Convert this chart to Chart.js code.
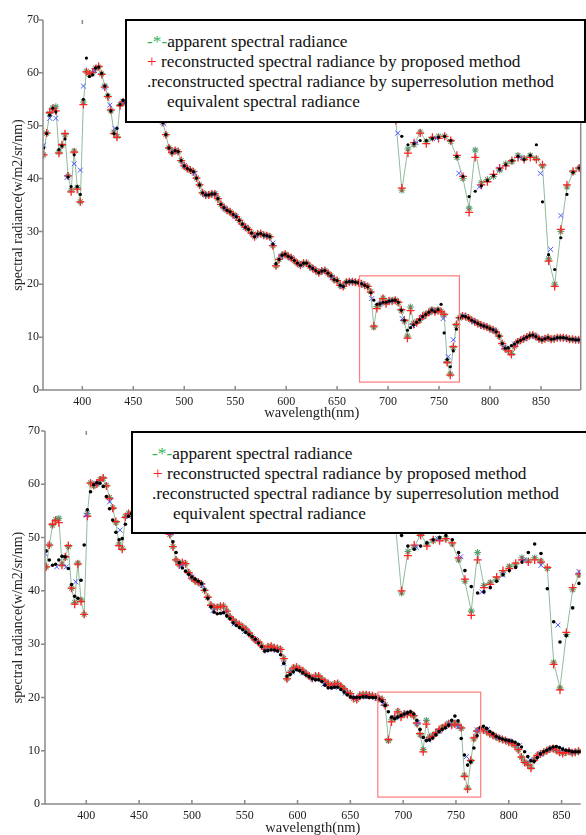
<!DOCTYPE html>
<html><head><meta charset="utf-8">
<script src="https://cdn.jsdelivr.net/npm/chart.js@4.4.0/dist/chart.umd.min.js"></script>
<style>
html,body{margin:0;padding:0;background:#fff}
body{width:586px;height:835px;overflow:hidden;position:relative;font-family:"Liberation Serif","Tinos","DejaVu Serif","Noto Serif",serif}
canvas{position:absolute;left:0}
.leg{position:absolute;background:#fff;border:2px solid #000;box-sizing:border-box}
.ln{position:absolute;font-size:17.3px;line-height:20px;white-space:nowrap;color:#111}
.g{color:#2fb35a}.r{color:#ff2020}
</style></head><body>
<canvas id="c1" width="586" height="422" style="top:0"></canvas>
<canvas id="c2" width="586" height="419" style="top:418px"></canvas>

<div class="leg" style="left:125px;top:19px;width:461px;height:104px"></div>
<div class="ln" style="left:147px;top:32px"><span class="g">-*-</span>apparent spectral radiance</div>
<div class="ln" style="left:147px;top:52px"><span class="r">+</span> reconstructed spectral radiance by proposed method</div>
<div class="ln" style="left:147px;top:72px">.reconstructed spectral radiance by superresolution method</div>
<div class="ln" style="left:167px;top:92px">equivalent spectral radiance</div>

<div class="leg" style="left:131px;top:431px;width:470px;height:103px"></div>
<div class="ln" style="left:152px;top:444px"><span class="g">-*-</span>apparent spectral radiance</div>
<div class="ln" style="left:153px;top:464px"><span class="r">+</span> reconstructed spectral radiance by proposed method</div>
<div class="ln" style="left:152px;top:484px">.reconstructed spectral radiance by superresolution method</div>
<div class="ln" style="left:173px;top:504px">equivalent spectral radiance</div>

<script>
// ---- data ----
const wavelengths = [
362,365,368,371,374,377,380,383,386,389,
392,395,398,401,404,407,410,413,416,419,
422,425,428,431,434,437,440,443,446,449,
452,455,458,461,464,467,470,473,476,479,
482,485,488,491,494,497,500,503,506,509,
512,515,518,521,524,527,530,533,536,539,
542,545,548,551,554,557,560,563,566,569,
572,575,578,581,584,587,590,593,596,599,
602,605,608,611,614,617,620,623,626,629,
632,635,638,641,644,647,650,653,656,659,
662,665,668,671,674,677,680,683,686,689,
692,695,698,701,704,707,710,713,716,719,
722,725,728,731,734,737,740,743,746,749,
752,755,758,761,764,767,770,773,776,779,
782,785,788,791,794,797,800,803,806,809,
812,815,818,821,824,827,830,833,836,839,
842,845,848,851,854,857,860,863,866,869,
872,875,878,881,884,887,890];

const proposed = [
44.5,48.6,52.5,53.2,52.8,44.8,46.4,48.5,40.5,37.5,
45,38,35.6,54,60.2,59.8,60.1,60.8,61.2,59.7,
57.3,55.5,53,48.5,47.8,53.8,54.5,54.3,54,54.5,
54.6,54.2,53.8,53.6,53.2,52.8,52.5,52,51.4,50.6,
48.3,45.8,44.9,45.3,45.1,43.4,42.4,41.9,41.6,41.3,
40.1,38.8,37.3,36.9,36.9,37.1,37.1,36.2,35.1,34.5,
34,33.7,33.2,32.8,32.1,31.4,30.8,30.4,29.7,29,
29.5,29.6,29.3,29.2,29,27.3,23.5,24.7,25.5,25.7,
25.3,25,24.5,24,23.6,24,24,23.4,23,22.6,
22.2,22.5,22.6,22.1,21.6,20.9,20.7,19.8,19.6,20.4,
20.5,20.5,20.4,20.3,20.1,19.8,19.6,18.5,12.1,15.4,
16.4,17.3,16.3,16.9,16.8,17,16.6,15.2,13.2,9.8,
15,12.4,12.7,13.4,14,14.2,14.7,15,14.8,15,
14.8,14.3,5.2,2.8,8.2,12.4,13.7,14,13.9,13.6,
13.2,12.9,12.6,12.3,12.1,11.9,11.6,11.4,11,10.2,
8.8,7.8,7.4,6.7,8.2,9.1,9.4,9.7,10,10.3,
10.4,10.1,9.7,9.5,9.7,9.9,9.6,9.7,9.9,9.9,
9.9,9.8,9.6,9.6,9.5,9.5,9.4];

const apparent = [
44.5,48.6,52.3,53.4,53.6,45,46.2,48.3,40.5,37.8,
45.2,38.3,35.6,54.5,60.3,59.7,60,60.9,61.1,59.8,
57.5,55.6,52.8,48.8,48,54,54.6,54.3,54,54.5,
54.6,54.2,53.8,53.6,53.2,52.8,52.5,52,51.4,50.6,
48.3,45.8,44.9,45.3,45.1,43.4,42.4,41.9,41.6,41.3,
40.1,38.8,37.3,36.9,36.9,37.1,37.1,36.2,35.1,34.5,
34,33.7,33.2,32.8,32.1,31.4,30.8,30.4,29.7,29,
29.5,29.6,29.3,29.2,29,27.3,23.5,24.7,25.5,25.7,
25.3,25,24.5,24,23.6,24,24,23.4,23,22.6,
22.2,22.5,22.6,22.1,21.6,20.9,20.7,19.8,19.6,20.4,
20.5,20.5,20.4,20.3,20.1,19.8,19.6,18.6,11.9,15.8,
16.2,17.4,16.5,16.8,17,17,16.5,15,13,10.2,
15.7,12.6,12.9,13.2,13.8,14.4,14.6,15.2,14.9,15.2,
14.9,14.2,5.4,3,8,12.2,13.6,14,13.9,13.6,
13.2,12.9,12.6,12.3,12.1,11.9,11.6,11.4,11,10.2,
8.8,7.9,7.5,6.9,8.3,9.1,9.4,9.7,10,10.3,
10.4,10.1,9.7,9.5,9.7,9.9,9.6,9.7,9.9,9.9,
9.9,9.8,9.6,9.6,9.5,9.5,9.4];

const superres1 = [
45.8,48.5,52,53.3,52.6,45.5,46.2,47.5,40.3,38.5,
44.5,38.5,37,55,62.8,59.3,59.6,60.9,61.1,59.9,
57.5,55.8,52.8,48.5,49.5,54,54.8,54.3,54,54.5,
54.6,54.2,53.8,53.6,53.2,52.8,52.5,52,51.4,50.6,
48.3,45.8,44.9,45.3,45.1,43.4,42.4,41.9,41.6,41.3,
40.1,38.8,37.3,36.9,36.9,37.1,37.1,36.2,35.1,34.5,
34,33.7,33.2,32.8,32.1,31.4,30.8,30.4,29.7,29,
29.5,29.6,29.3,29.2,29,27.6,23.9,24.7,25.5,25.7,
25.3,25,24.5,24,23.6,24,24,23.4,23,22.6,
22.2,22.5,22.6,22.1,21.6,20.9,20.7,19.8,19.6,20.4,
20.5,20.5,20.4,20.3,20.1,19.8,19.5,18.4,17,16.2,
16.3,16.6,16.6,16.8,16.9,17,16.6,15.1,13.2,11.3,
11.8,12.3,12.8,13.3,13.9,14.3,14.7,15.1,14.8,15.2,
16.2,10.8,5.8,4.4,7.4,11.5,13.6,14,13.9,13.6,
13.2,12.9,12.6,12.3,12.1,11.9,11.6,11.4,11,10.2,
8.8,7.9,8,8.4,8.7,9.1,9.4,9.7,10,10.3,
10.4,10.1,9.7,9.5,9.7,9.9,9.6,9.7,9.9,9.9,
9.9,9.8,9.6,9.6,9.5,9.5,9.4];

const superres2 = [
47.5,45.8,44.8,45,45.8,46.5,46.4,44.2,41.2,39,
38.6,42,48.6,55.2,58.6,59.9,60.3,60.2,59.6,57.7,
55.4,53.3,51,49.6,49.8,52.5,54,54.5,54.5,54.3,
54,53.8,53.5,53.2,52.9,52.6,52.3,52,51.6,51,
49.2,47.2,45.3,44.3,43.7,43.1,42.6,42.2,41.8,41.4,
40.2,38.6,37,36,35.7,35.8,35.9,35.3,34.8,34,
33.5,33.1,32.7,32.2,31.8,31.4,30.9,30.2,29.5,28.7,
28.8,28.9,28.9,28.7,28,26.4,24,24.3,24.8,25.2,
25,24.6,24.2,23.9,23.5,23.3,23.3,23,22.3,21.8,
21.8,21.9,21.9,21.5,21,20.5,20.1,20,20,20,
20.1,20.1,20,20,20,19.7,19.3,18.5,17.3,16.3,
16,16.3,16.6,16.9,17.1,17.3,16.9,15.7,14,12.5,
11.9,12,12.4,13,13.6,14,14.3,14.8,15.7,16.5,
15.6,12.3,9.2,7.3,7.9,10.5,12.8,14.3,14.6,14.2,
13.6,13.2,12.7,12.4,12.2,12,11.9,11.8,11.6,11.2,
10.7,9.8,8.9,8.1,8,8.7,9.4,9.8,10.1,10.4,
10.7,10.8,10.6,10.3,10.1,10,9.8,9.8,9.8,9.8,
9.8,9.8,9.7,9.7,9.6,9.6,9.6];

const eqWl1 = [362,368,374,385,392,398,401,412,422,427,432,440,450,460,470,480,490,500,510,520,530,540,550,560,570,580,587,595,605,615,625,635,645,655,665,675,684,693,703,714,724,734,744,754,759,764,774,784,794,804,814,824,834,844,854,864,874,884];
const eqVal1 = [46.3,51.4,51.4,40.2,42.8,41.6,57.5,60.4,57.3,53.9,49.5,54.5,54.5,53.6,52.5,50.4,45.2,42.4,41,37,37.1,34.3,32.9,30.8,29.2,29.2,27.8,25.3,25,23.7,23.1,22.5,21.3,19.7,20.5,20,17.3,16.4,16.8,13.5,12.2,13.9,15,13.5,6.3,9.5,14,13,12.1,11.3,8.1,8.7,9.8,10.2,9.7,9.8,9.8,9.5];
const eqWl2 = [361,372,381,390,400,410,422,432,440,450,460,470,480,490,500,510,520,530,540,550,560,570,580,587,595,605,615,625,635,645,655,665,675,681,693,703,714,724,734,744,752,760,770,780,790,800,810,820,830,840,850,860];
const eqVal2 = [47,44.5,44.5,41.7,54.2,60.2,56.7,51.4,54,54.2,53.3,52.3,50.8,44.6,42.6,41,36.3,35.9,33.8,32.4,30.9,28.8,28.8,26.4,24.8,24.6,23.4,22.5,21.9,20.8,20,20.1,19.9,18.9,16.2,17,15.3,12,13.6,15,14.5,8.9,13.9,14,12.5,11.9,11,8.3,9.4,10.4,10.3,9.8];

const xTickLabels = [400,450,500,550,600,650,700,750,800,850];
const yTickLabels = [0,10,20,30,40,50,60,70];

// zoomed region (data units) and its magnified copy mapping
const zoomBox1 = {x:[672,770], y:[1.5,21.6]};
const zoomBox2 = {x:[676,773.4], y:[1.3,21]};
const inset1 = {k:2, dx:658.5, dy:14, from:672, to:776};
const inset2 = {k:2, dx:673.5, dy:15.8, from:676, to:776};

// ---- helpers ----
const FONT = "'Liberation Serif','Tinos','DejaVu Serif','Noto Serif',serif";
const pts = (xs, ys) => xs.map((x,i)=>({x, y:ys[i]}));
const insetPts = (xs, ys, m) => pts(xs, ys).filter(p=>p.x>=m.from && p.x<=m.to)
  .map(p=>({x:m.k*p.x - m.dx, y:m.k*p.y + m.dy}));

function buildDatasets(sup, eqW, eqV, m, dotR){
  const out = [];
  [false,true].forEach(inset=>{
    const f = inset ? (xs,ys)=>insetPts(xs,ys,m) : pts;
    out.push({label:'apparent spectral radiance', data:f(wavelengths, apparent), showLine:true,
      borderColor:'rgba(125,175,140,0.85)', borderWidth:1, pointStyle:'star', pointRadius:3.4,
      pointBorderColor:'#5a9f72', pointBackgroundColor:'#5a9f72', pointBorderWidth:1.1, order:4});
    out.push({label:'reconstructed spectral radiance by proposed method', data:f(wavelengths, proposed), showLine:false,
      pointStyle:'cross', pointRadius:4, pointBorderColor:'#ff2424', pointBackgroundColor:'#ff2424', pointBorderWidth:1.3, order:3});
    out.push({label:'equivalent spectral radiance', data:f(eqW, eqV), showLine:false,
      pointStyle:'crossRot', pointRadius:3.5, pointBorderColor:'#4d5cff', pointBackgroundColor:'#4d5cff', pointBorderWidth:1, order:1});
    out.push({label:'reconstructed spectral radiance by superresolution method', data:f(wavelengths, sup), showLine:false,
      pointStyle:'circle', pointRadius:dotR, pointBackgroundColor:'#000', pointBorderColor:'#000', pointBorderWidth:0, order:0});
  });
  return out;
}

const framePlugin = {
  id:'frame',
  afterDatasetsDraw(chart, args, o){
    const {ctx, scales:{x,y}} = chart;
    ctx.save();
    ctx.strokeStyle = '#ff7a7a'; ctx.lineWidth = 1.2;
    const x0=x.getPixelForValue(o.box.x[0]), x1=x.getPixelForValue(o.box.x[1]);
    const y0=y.getPixelForValue(o.box.y[1]), y1=y.getPixelForValue(o.box.y[0]);
    ctx.strokeRect(x0, y0, x1-x0, y1-y0);
    ctx.restore();
  },
  afterDraw(chart, args, o){
    const {ctx, chartArea:a, scales:{x,y}} = chart;
    ctx.save();
    ctx.strokeStyle = '#8a8a8a'; ctx.lineWidth = 1.5;
    ctx.beginPath();
    ctx.moveTo(a.left, a.top); ctx.lineTo(a.left, a.bottom); ctx.lineTo(a.right, a.bottom);
    if (o.right) { ctx.moveTo(a.right, a.top); ctx.lineTo(a.right, a.bottom); }
    x.ticks.forEach(t=>{ const p=x.getPixelForValue(t.value);
      ctx.moveTo(p, a.bottom); ctx.lineTo(p, a.bottom-4);
      ctx.moveTo(p, a.top); ctx.lineTo(p, a.top+4); });
    y.ticks.forEach(t=>{ const p=y.getPixelForValue(t.value);
      ctx.moveTo(a.left-4, p); ctx.lineTo(a.left, p); });
    ctx.stroke();
    ctx.restore();
  }
};

function makeChart(id, cfg){
  return new Chart(document.getElementById(id), {
    type:'scatter',
    data:{datasets: buildDatasets(cfg.sup, cfg.eqW, cfg.eqV, cfg.inset, cfg.dotR)},
    options:{
      responsive:false, animation:false, events:[],
      layout:{padding:{top:cfg.top, right:cfg.padRight, left:0, bottom:0}},
      plugins:{legend:{display:false}, tooltip:{enabled:false}, frame:{box:cfg.box, right:cfg.right}},
      scales:{
        x:{type:'linear', min:cfg.xmin, max:cfg.xmax,
          afterBuildTicks:s=>{ s.ticks = xTickLabels.map(v=>({value:v})); },
          grid:{display:false, drawTicks:false}, border:{display:false},
          ticks:{padding:cfg.xPad, color:'#222', font:{family:FONT, size:12}, maxRotation:0, autoSkip:false},
          title:{display:true, text:'wavelength(nm)', color:'#222', font:{family:FONT, size:14.5}, padding:{top:0, bottom:0}},
          afterFit:s=>{ s.height = cfg.xH; }},
        y:{type:'linear', min:0, max:70,
          afterBuildTicks:s=>{ s.ticks = yTickLabels.map(v=>({value:v})); },
          grid:{display:false, drawTicks:false}, border:{display:false},
          ticks:{padding:cfg.yPad, color:'#222', font:{family:FONT, size:12}},
          title:{display:true, text:'spectral radiance(w/m2/sr/nm)', color:'#222', font:{family:FONT, size:14}, padding:{top:10, bottom:0}},
          afterFit:s=>{ s.width = cfg.yW; }}
      }
    },
    plugins:[framePlugin]
  });
}

makeChart('c1', {sup:superres1, eqW:eqWl1, eqV:eqVal1, inset:inset1, box:zoomBox1, right:true, dotR:1.6,
  top:20, padRight:1, xmin:361.4, xmax:889, xH:32, yW:43, xPad:5, yPad:4});
makeChart('c2', {sup:superres2, eqW:eqWl2, eqV:eqVal2, inset:inset2, box:zoomBox2, right:false, dotR:1.8,
  top:13, padRight:0, xmin:360.9, xmax:868.1, xH:33, yW:45, xPad:5, yPad:5});
</script>
</body></html>
